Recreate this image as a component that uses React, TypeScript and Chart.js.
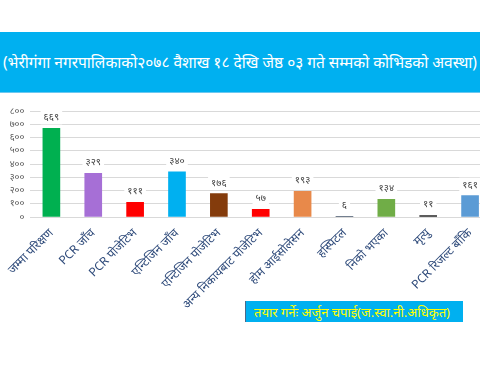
import React, { useEffect, useRef } from "react";
import { Chart, registerables } from "chart.js";

Chart.register(...registerables);

const categories = [
  "जम्मा परिक्षण",
  "PCR जाँच",
  "PCR पोजेटिभ",
  "एन्टिजिन जाँच",
  "एन्टिजिन पोजेटिभ",
  "अन्य निकायबाट पोजेटिभ",
  "होम आईसोलेसन",
  "हस्पिटल",
  "निको भएका",
  "मृत्यु",
  "PCR रिजल्ट बाँकि",
];
const values = [669, 329, 111, 340, 176, 57, 193, 6, 134, 11, 161];
const barColors = [
  "#00B050",
  "#A66FD6",
  "#FF0000",
  "#00B0F0",
  "#843C0C",
  "#FF0000",
  "#E8894A",
  "#44546A",
  "#70AD47",
  "#262626",
  "#5B9BD5",
];
const yMax = 800;
const yStep = 100;
const titleText =
  "(भेरीगंगा नगरपालिकाको२०७८ वैशाख १८ देखि जेष्ठ ०३ गते सम्मको कोभिडको अवस्था)";
const footerText = "तयार गर्नेः अर्जुन चपाई(ज.स्वा.नी.अधिकृत)";

const devDigits = ["०", "१", "२", "३", "४", "५", "६", "७", "८", "९"];
const toDev = (n: number | string) =>
  String(n).replace(/[0-9]/g, (d) => devDigits[Number(d)]);

const FONT = "'Noto Sans', 'Noto Sans Devanagari', sans-serif";

const labelPlugin = {
  id: "valueLabels",
  afterDatasetsDraw(chart: any) {
    const ctx = chart.ctx;
    const meta = chart.getDatasetMeta(0);
    ctx.save();
    ctx.font = `10px ${FONT}`;
    ctx.textAlign = "center";
    ctx.textBaseline = "middle";
    meta.data.forEach((bar: any, i: number) => {
      const txt = toDev(values[i]);
      const w = ctx.measureText(txt).width + 6;
      const cy = bar.y - 11;
      ctx.fillStyle = "#FFFFFF";
      ctx.fillRect(bar.x - w / 2, cy - 7, w, 14);
      ctx.fillStyle = "#404040";
      ctx.fillText(txt, bar.x, cy);
    });
    ctx.restore();
  },
};

export default function App() {
  const ref = useRef<HTMLCanvasElement>(null);
  useEffect(() => {
    if (!ref.current) return;
    const chart = new Chart(ref.current, {
      type: "bar",
      data: {
        labels: categories,
        datasets: [
          {
            data: values,
            backgroundColor: barColors,
            borderWidth: 0,
            barThickness: 17,
          },
        ],
      },
      options: {
        animation: false,
        responsive: false,
        maintainAspectRatio: false,
        layout: { padding: { top: 15, left: 0, right: 9, bottom: 0 } },
        plugins: {
          legend: { display: false },
          tooltip: { enabled: false },
          title: { display: false },
        },
        scales: {
          x: {
            grid: { display: false, drawTicks: false },
            border: { display: true, color: "#D9D9D9" },
            ticks: {
              minRotation: 45,
              maxRotation: 45,
              autoSkip: false,
              color: "#2E4A7A",
              font: { size: 12, family: FONT },
              padding: 9,
            },
            afterFit: (s: any) => {
              s.height = 94;
            },
          },
          y: {
            min: 0,
            max: yMax,
            grid: { color: "#D9D9D9", drawTicks: false },
            border: { display: false },
            ticks: {
              stepSize: yStep,
              autoSkip: false,
              color: "#595959",
              font: { size: 9.5, family: FONT },
              padding: 6,
              callback: (v: any) => toDev(v),
            },
            afterFit: (s: any) => {
              s.width = 30;
            },
          },
        },
      },
      plugins: [labelPlugin],
    });
    return () => chart.destroy();
  }, []);

  return (
    <div
      style={{
        position: "fixed",
        left: 0,
        top: 0,
        width: 480,
        height: 371,
        overflow: "hidden",
        background: "#FFFFFF",
      }}
    >
      <div
        style={{
          position: "absolute",
          left: 0,
          top: 32,
          width: 480,
          height: 60,
          background: "#00B0F0",
          borderBottom: "1px solid #6CC8F0",
          color: "#FFFFFF",
          fontFamily: FONT,
          fontSize: 15.5,
          display: "flex",
          alignItems: "center",
          justifyContent: "center",
          whiteSpace: "nowrap",
        }}
      >
        {titleText}
      </div>
      <canvas
        ref={ref}
        width={500}
        height={215}
        style={{ position: "absolute", left: 0, top: 96, width: 500, height: 215 }}
      />
      <div
        style={{
          position: "absolute",
          left: 245,
          top: 301,
          width: 218,
          height: 21,
          background: "#00B0F0",
          borderLeft: "1px solid #4A6A8A",
          color: "#FFFF00",
          fontFamily: FONT,
          fontSize: 13,
          display: "flex",
          alignItems: "center",
          paddingLeft: 8,
          boxSizing: "border-box",
          whiteSpace: "nowrap",
        }}
      >
        {footerText}
      </div>
    </div>
  );
}
